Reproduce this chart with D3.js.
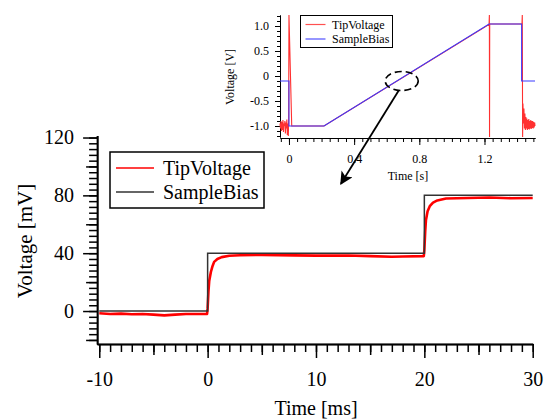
<!DOCTYPE html>
<meta charset="utf-8">
<style>
  body { margin: 0; padding: 0; background: #fff; }
  svg { display: block; font-family: 'Liberation Serif', 'Times New Roman', serif; }
  .axis path, .axis line { stroke: #000; fill: none; }
  .axis text { fill: #000; font-family: 'Liberation Serif', serif; }
</style>
<body>
<svg class="chart" width="546" height="420"></svg>
<script src="https://d3js.org/d3.v7.min.js"></script>
<script>

// main chart: time in ms, voltage in mV
var biasMain = [[-10, 0], [0, 0], [0, 40], [20, 40], [20, 80], [30, 80]];
var tipMain = [[-10, -1.5], [-9, -2], [-8, -1.8], [-7, -2.2], [-6, -2], [-5, -2.5], [-4, -3],
  [-3, -2.5], [-2, -2], [-1, -2], [-0.05, -2], [0, 2], [0.08, 14], [0.15, 21], [0.3, 27],
  [0.45, 31], [0.6, 34], [0.9, 36], [1.3, 37.3], [2, 38.2], [3, 38.6], [5, 38.8], [8, 38.5],
  [10, 38.3], [13, 38.4], [15, 38], [17, 37.5], [18, 37.7], [19.95, 38], [20, 42], [20.08, 55],
  [20.15, 63], [20.3, 69], [20.5, 72.5], [20.8, 75], [21.2, 76.5], [22, 77.8], [24, 78.2],
  [26, 78.5], [28, 78], [30, 78.2]];
var mainXMajor = [-10, 0, 10, 20, 30];
var mainXMid = [-5, 5, 15, 25];
var mainYMajor = [0, 40, 80, 120];
var mainYMid = [-20, 20, 60, 100];

// inset: time in s, voltage in V
var biasInset = [[-0.055, -0.1], [0, -0.1], [0, -1.0], [0.215, -1.0], [1.228, 1.04],
  [1.428, 1.04], [1.428, -0.1], [1.51, -0.1]];
var tipInset = [[-0.055, -0.95], [-0.052, -1.05], [-0.049, -0.9], [-0.046, -1.1], [-0.043, -0.92],
  [-0.04, -1.08], [-0.037, -0.88], [-0.034, -1.12], [-0.031, -0.95], [-0.028, -1.0], [-0.025, -0.9],
  [-0.022, -1.15], [-0.019, -0.93], [-0.016, -1.05], [-0.013, -0.87], [-0.01, -1.18], [-0.007, -0.95],
  [-0.004, -1.2], [-0.002, -0.9], [0, 1.22], [0.017, -1.0], [0.215, -1.0], [1.228, 1.03],
  [1.23, 1.22], [1.231, -1.22], [1.232, 1.04], [1.43, 1.04], [1.432, 1.22], [1.434, -1.22],
  [1.436, -0.55], [1.439, -0.95], [1.442, -0.65], [1.445, -1.05], [1.448, -0.75], [1.451, -1.08],
  [1.454, -0.82], [1.457, -1.05], [1.46, -0.85], [1.463, -1.08], [1.466, -0.88], [1.469, -1.06],
  [1.472, -0.86], [1.475, -1.07], [1.478, -0.9], [1.481, -1.05], [1.484, -0.88], [1.487, -1.06],
  [1.49, -0.9], [1.493, -1.04], [1.496, -0.9], [1.499, -1.05], [1.502, -0.92], [1.505, -1.03],
  [1.508, -0.93], [1.51, -1.0]];
var insetXMajor = [0, 0.4, 0.8, 1.2];
var insetYMajor = [-1, -0.5, 0, 0.5, 1];
var insetYLabels = ["-1.0", "-0.5", "0", "0.5", "1.0"];

// zoom marker (inset units) and arrow tip (main units)
var markCenter = [0.692, -0.1];
var arrowTip = [12.3, 88];

var svg = d3.select(".chart");

var x = d3.scaleLinear().domain([-10.2, 30]).range([97.1, 532.7]);
var y = d3.scaleLinear().domain([-22.8, 121.4]).range([344, 135.5]);

var xi = d3.scaleLinear().domain([-0.055, 1.51]).range([280, 535]);
var yi = d3.scaleLinear().domain([-1.22, 1.22]).range([137, 15]);

function ticksBetween(a, b, step) {
  return d3.range(Math.round(a / step), Math.round(b / step) + 1).map(function(k) { return +(k * step).toFixed(4); });
}
var plain = function(d) { return String(d); };

// ---- main axes
var gx = svg.append("g").attr("class", "axis").attr("transform", "translate(0,344)");
gx.append("g").call(d3.axisBottom(x).tickValues(ticksBetween(-10, 30, 1)).tickSize(8).tickSizeOuter(0).tickFormat(""));
gx.append("g").call(d3.axisBottom(x).tickValues(mainXMid).tickSize(11).tickSizeOuter(0).tickFormat(""));
gx.append("g").call(d3.axisBottom(x).tickValues(mainXMajor).tickSize(14).tickSizeOuter(0).tickPadding(14).tickFormat(plain))
  .selectAll("text").style("font-size", "20px");
gx.selectAll("path, line").attr("stroke-width", 1.5);

var gy = svg.append("g").attr("class", "axis").attr("transform", "translate(97.1,0)");
gy.append("g").call(d3.axisLeft(y).tickValues(ticksBetween(-20, 120, 4)).tickSize(8).tickSizeOuter(0).tickFormat(""));
gy.append("g").call(d3.axisLeft(y).tickValues(mainYMid).tickSize(11).tickSizeOuter(0).tickFormat(""));
gy.append("g").call(d3.axisLeft(y).tickValues(mainYMajor).tickSize(14).tickSizeOuter(0).tickPadding(9).tickFormat(plain))
  .selectAll("text").style("font-size", "20px");
gy.selectAll("path, line").attr("stroke-width", 1.5);

svg.append("text").attr("x", 316).attr("y", 415).attr("text-anchor", "middle")
  .style("font-size", "20px").text("Time [ms]");
svg.append("text").attr("transform", "translate(32,241) rotate(-90)").attr("text-anchor", "middle")
  .style("font-size", "21px").text("Voltage [mV]");

var lineMain = d3.line().x(function(d) { return x(d[0]); }).y(function(d) { return y(d[1]); });

svg.append("path").datum(tipMain).attr("d", lineMain)
  .attr("fill", "none").attr("stroke", "#ff0000").attr("stroke-width", 2.6).attr("stroke-linejoin", "round");
svg.append("path").datum(biasMain).attr("d", lineMain)
  .attr("fill", "none").attr("stroke", "#333").attr("stroke-width", 1.5);

// main legend
var lg = svg.append("g").attr("transform", "translate(110,152)");
lg.append("rect").attr("width", 154).attr("height", 56).attr("fill", "#fff").attr("stroke", "#000").attr("stroke-width", 1.5);
[["TipVoltage", "#ff0000", 16], ["SampleBias", "#333", 40]].forEach(function(it) {
  lg.append("line").attr("x1", 6).attr("x2", 44).attr("y1", it[2]).attr("y2", it[2])
    .attr("stroke", it[1]).attr("stroke-width", 1.5);
  lg.append("text").attr("x", 53).attr("y", it[2]).attr("dy", "0.35em").style("font-size", "20px").text(it[0]);
});

// ---- inset axes
var gxi = svg.append("g").attr("class", "axis").attr("transform", "translate(0,138)");
gxi.append("g").call(d3.axisBottom(xi).tickValues(ticksBetween(-0.05, 1.5, 0.05)).tickSize(4).tickSizeOuter(0).tickFormat(""));
gxi.append("g").call(d3.axisBottom(xi).tickValues(insetXMajor).tickSize(7).tickSizeOuter(0).tickPadding(9).tickFormat(function(d) { return d === 0 ? "0" : d.toFixed(1); }))
  .selectAll("text").style("font-size", "12px");

var gyi = svg.append("g").attr("class", "axis").attr("transform", "translate(280,0)");
gyi.append("g").call(d3.axisLeft(yi).tickValues(ticksBetween(-1.2, 1.2, 0.1)).tickSize(3).tickSizeOuter(0).tickFormat(""));
gyi.append("g").call(d3.axisLeft(yi).tickValues(insetYMajor).tickSize(5).tickSizeOuter(0).tickPadding(6)
  .tickFormat(function(d, i) { return insetYLabels[i]; }))
  .selectAll("text").style("font-size", "12px");

svg.append("text").attr("x", 408).attr("y", 180).attr("text-anchor", "middle")
  .style("font-size", "12px").text("Time [s]");
svg.append("text").attr("transform", "translate(234,77) rotate(-90)").attr("text-anchor", "middle")
  .style("font-size", "12px").text("Voltage [V]");

var lineInset = d3.line().x(function(d) { return xi(d[0]); }).y(function(d) { return yi(d[1]); });
svg.append("path").datum(tipInset).attr("d", lineInset)
  .attr("fill", "none").attr("stroke", "#ff3030").attr("stroke-width", 1.1);
svg.append("path").datum(biasInset).attr("d", lineInset)
  .attr("fill", "none").attr("stroke", "#3a3aff").attr("stroke-width", 1.1);

// inset legend
var li = svg.append("g").attr("transform", "translate(300.5,15.5)");
li.append("rect").attr("width", 92).attr("height", 32).attr("fill", "#fff").attr("stroke", "#000").attr("stroke-width", 1);
[["TipVoltage", "#ff5050", 9], ["SampleBias", "#5050ff", 23.5]].forEach(function(it) {
  li.append("line").attr("x1", 5).attr("x2", 25).attr("y1", it[2]).attr("y2", it[2])
    .attr("stroke", it[1]).attr("stroke-width", 1.2);
  li.append("text").attr("x", 31.5).attr("y", it[2]).attr("dy", "0.35em").style("font-size", "12px").text(it[0]);
});

// zoom marker and arrow
var cx = xi(markCenter[0]), cy = yi(markCenter[1]);
svg.append("ellipse").attr("cx", cx).attr("cy", cy).attr("rx", 16.5).attr("ry", 9.5)
  .attr("fill", "none").attr("stroke", "#000").attr("stroke-width", 1.6).attr("stroke-dasharray", "7,4");

var defs = svg.append("defs");
defs.append("marker").attr("id", "head").attr("viewBox", "0 0 10 10").attr("refX", 9).attr("refY", 5)
  .attr("markerWidth", 15).attr("markerHeight", 13).attr("markerUnits", "userSpaceOnUse").attr("orient", "auto")
  .append("path").attr("d", "M0,0 L10,5 L0,10 L2.5,5 Z").attr("fill", "#000");

svg.append("line").attr("x1", cx - 3).attr("y1", cy + 9.5).attr("x2", x(arrowTip[0])).attr("y2", y(arrowTip[1]))
  .attr("stroke", "#000").attr("stroke-width", 1.8).attr("marker-end", "url(#head)");

</script>
</body>
